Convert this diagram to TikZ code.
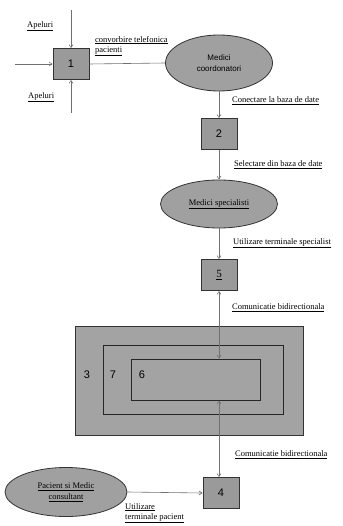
\documentclass[tikz,border=0pt]{standalone}
\usepackage{fontspec}
\setmainfont{Liberation Serif}
\setsansfont{Liberation Sans}
\usetikzlibrary{shapes.geometric,arrows.meta}
\definecolor{boxgray}{HTML}{9A9A9A}
\definecolor{ellgray}{HTML}{A0A0A0}
\definecolor{bigray}{HTML}{A3A3A3}
\definecolor{linegray}{HTML}{707070}
\begin{document}
\begin{tikzpicture}[x=1pt,y=-1pt,
  pbox/.style={draw=black!80, line width=0.8pt, fill=boxgray, minimum width=36pt, minimum height=31pt, inner sep=0pt, font=\sffamily\fontsize{11}{12}\selectfont},
  pell/.style={ellipse, draw=black!80, line width=0.8pt, fill=ellgray, inner sep=0pt, align=center},
  lab/.style={font=\fontsize{8.5}{10}\selectfont, anchor=west, align=left, inner sep=0pt},
  num/.style={font=\sffamily\fontsize{11}{12}\selectfont, inner sep=0pt},
  arr/.style={-{Straight Barb[length=3pt,width=4pt]}, draw=linegray, line width=0.6pt},
  biarr/.style={{Straight Barb[length=3pt,width=4pt]}-{Straight Barb[length=3pt,width=4pt]}, draw=linegray, line width=0.6pt},
  plain/.style={draw=linegray, line width=0.6pt}]
\useasboundingbox (0,0) rectangle (342,526);

% big nested boxes
\node[draw=black!80, line width=0.8pt, fill=bigray, minimum width=228pt, minimum height=109pt, inner sep=0pt] (b3) at (189,380.5) {};
\node[draw=black!85, line width=0.9pt, fill=bigray, minimum width=180pt, minimum height=69pt, inner sep=0pt] (b7) at (193,379.5) {};
\node[draw=black!85, line width=0.9pt, fill=bigray, minimum width=129pt, minimum height=41pt, inner sep=0pt] (b6) at (195.5,379.5) {};
\node[num] (n3) at (87,375) {3};
\node[num] (n7) at (113,375) {7};
\node[num] (n6) at (142,375) {6};

% box 1 and inputs
\node[pbox] (b1) at (71,64) {1};
\coordinate (intop) at (71,10);
\coordinate (inleft) at (15,64);
\coordinate (inbot) at (71,113);
\draw[arr] (intop) -- (b1.north);
\draw[arr] (inleft) -- (b1.west);
\draw[arr] (inbot) -- (b1.south);
\node[lab] (ap1) at (27,26) {\underline{Apeluri}};
\node[lab] (ap2) at (28,97) {\underline{Apeluri}};

% ellipse 1
\node[pell, minimum width=107pt, minimum height=56pt, font=\sffamily\fontsize{8}{11}\selectfont] (e1) at (219,63) {Medici\\coordonatori};
\draw[plain] (b1.east) -- (e1.west);
\node[lab] (lconv) at (95,46) {\underline{convorbire telefonica}\\\underline{pacienti}};

% box 2
\node[pbox] (b2) at (219,134) {2};
\draw[arr] (e1.south) -- (b2.north);
\node[lab] (lcon) at (232,101) {\underline{Conectare la baza de date}};

% ellipse 2
\node[pell, minimum width=117pt, minimum height=48pt, font=\fontsize{8.5}{10}\selectfont] (e2) at (219,204) {\underline{Medici specialisti}};
\draw[arr] (b2.south) -- (e2.north);
\node[lab] (lsel) at (234,165) {\underline{Selectare din baza de date}};

% box 5
\node[pbox, font=\fontsize{11}{12}\selectfont] (b5) at (219,275) {\underline{5}};
\draw[arr] (e2.south) -- (b5.north);
\node[lab] (lut) at (233,243) {\underline{Utilizare terminale specialist}};

\draw[biarr] (b5.south) -- (b6.north -| b5.south);
\node[lab] (lcom1) at (232,308) {\underline{Comunicatie bidirectionala}};

% box 4
\node[pbox] (b4) at (221,493) {4};
\draw[biarr] (b6.south -| b5.south) -- (b4.north -| b5.south);
\node[lab] (lcom2) at (235,455) {\underline{Comunicatie bidirectionala}};

% ellipse 3
\node[pell, minimum width=122pt, minimum height=49pt, font=\fontsize{8.5}{11}\selectfont] (e3) at (66,492) {\underline{Pacient si Medic}\\\underline{consultant}};
\draw[arr] (e3.east) -- (b4.west);
\node[lab] (lutp) at (125,513) {\underline{Utilizare}\\\underline{terminale pacient}};
\end{tikzpicture}
\end{document}
